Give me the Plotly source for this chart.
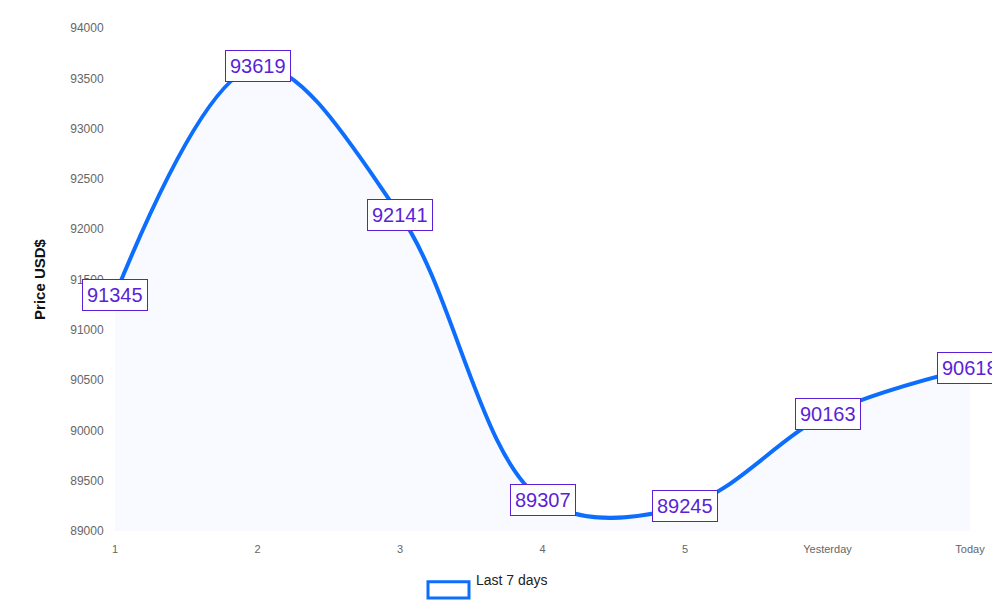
import plotly.graph_objects as go

days = ['1', '2', '3', '4', '5', 'Yesterday', 'Today']
prices = [91345, 93619, 92141, 89307, 89245, 90163, 90618]
y_ticks = list(range(89000, 94001, 500))

line_color = '#0d6efd'
label_color = '#5b1fd6'

fig = go.Figure()
fig.add_trace(go.Scatter(
    x=days, y=prices, mode='lines',
    line=dict(color=line_color, width=4, shape='spline', smoothing=1),
    fill='tozeroy', fillcolor='rgba(230,235,255,0.25)',
    name='Last 7 days', showlegend=False,
))

# value labels on each point (category index for x)
for i, p in enumerate(prices):
    fig.add_annotation(x=i, y=p, text=str(p), showarrow=False,
                       font=dict(size=20, color=label_color, family='Liberation Sans'),
                       bgcolor='white', bordercolor=label_color, borderwidth=1, borderpad=4)

# chart.js style legend
fig.add_shape(type='rect', xref='paper', yref='paper',
              x0=(420 - 107) / 855, x1=(461 - 107) / 855, y0=-0.133, y1=-0.101,
              line=dict(color=line_color, width=3), fillcolor='white')
fig.add_annotation(xref='paper', yref='paper', x=(466 - 107) / 855, y=-0.117,
                   xanchor='left', text='Last 7 days', showarrow=False,
                   font=dict(size=14, color='#222', family='Liberation Sans'))

fig.update_layout(
    width=1000, height=600, plot_bgcolor='white', paper_bgcolor='white',
    margin=dict(l=107, r=38, t=20, b=77),
    font=dict(family='Liberation Sans', color='#666', size=12),
)
fig.update_xaxes(showgrid=False, zeroline=False, showline=False, range=[0, 6],
                 ticks='outside', ticklen=8, tickcolor='white', tickfont=dict(size=11))
fig.update_yaxes(showgrid=False, zeroline=False, showline=False, range=[89000, 94000],
                 tickvals=y_ticks, ticktext=[str(v) for v in y_ticks],
                 ticks='outside', ticklen=8, tickcolor='white', tickfont=dict(size=12),
                 title=dict(text='<b>Price USD$</b>', font=dict(size=15, color='#111'), standoff=20))

fig.write_html('out.html')
